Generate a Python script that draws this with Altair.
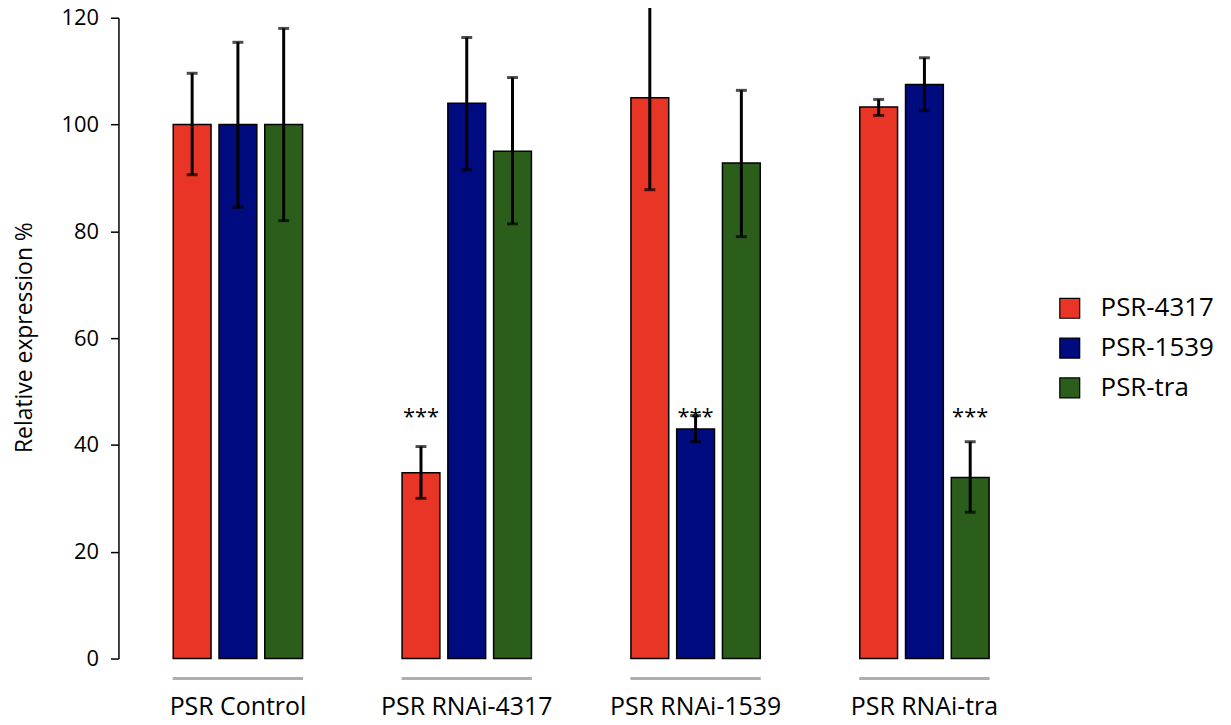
import altair as alt
import pandas as pd

groups = ["PSR Control", "PSR RNAi-4317", "PSR RNAi-1539", "PSR RNAi-tra"]
series = ["PSR-4317", "PSR-1539", "PSR-tra"]
colors = ["#E83526", "#000B80", "#2C5E1B"]

v4317 = [100.0, 34.8, 105.0, 103.3]
lo4317 = [90.6, 30.0, 87.8, 101.7]
hi4317 = [109.6, 39.7, 122.2, 104.7]

v1539 = [100.0, 104.0, 43.0, 107.5]
lo1539 = [84.5, 91.5, 40.6, 102.6]
hi1539 = [115.4, 116.3, 45.5, 112.5]

vtra = [100.0, 95.0, 92.8, 33.9]
lotra = [82.0, 81.4, 79.0, 27.4]
hitra = [118.0, 108.8, 106.4, 40.6]

sig_groups = ["PSR RNAi-4317", "PSR RNAi-1539", "PSR RNAi-tra"]
sig_series = ["PSR-4317", "PSR-1539", "PSR-tra"]
sig_level = [45.2, 45.2, 45.2]

rows = []
for s, vals, los, his in [("PSR-4317", v4317, lo4317, hi4317),
                          ("PSR-1539", v1539, lo1539, hi1539),
                          ("PSR-tra", vtra, lotra, hitra)]:
    for g, v, lo, hi in zip(groups, vals, los, his):
        rows.append({"group": g, "series": s, "value": v, "lo": lo, "hi": hi})
df = pd.DataFrame(rows)

stars = pd.DataFrame({"group": sig_groups, "series": sig_series, "y": sig_level, "t": ["***"] * 3})
groups_df = pd.DataFrame({"group": groups})

FONT = "Open Sans"

xenc = alt.X("group:N", sort=groups,
             scale=alt.Scale(paddingInner=0.4, paddingOuter=0.222),
             axis=alt.Axis(title=None, domain=False, ticks=False, labelAngle=0,
                           labelFontSize=25, labelFont=FONT, labelColor="black",
                           labelPadding=36))
xoff = alt.XOffset("series:N", sort=series,
                   scale=alt.Scale(paddingInner=0.174, paddingOuter=0.087))
yscale = alt.Scale(domain=[0, 120], nice=False)

bars = alt.Chart(df).mark_bar(stroke="black", strokeWidth=1.5).encode(
    x=xenc,
    xOffset=xoff,
    y=alt.Y("value:Q", scale=yscale,
            axis=alt.Axis(title="Relative expression %", values=[0, 20, 40, 60, 80, 100, 120],
                          grid=False, domainColor="black", domainWidth=1.5,
                          tickColor="black", tickWidth=1.5, tickSize=8,
                          labelFontSize=22, labelFont=FONT, labelColor="black",
                          labelPadding=12,
                          titleFontSize=23, titleFont=FONT, titleFontWeight="normal",
                          titleColor="black", titleX=-94, titleY=321,
                          titleAlign="center", titleBaseline="middle", titleAngle=-90)),
    color=alt.Color("series:N", sort=series,
                    scale=alt.Scale(domain=series, range=colors),
                    legend=alt.Legend(title=None, orient="none", legendX=943, legendY=279,
                                      symbolType="square", symbolSize=400,
                                      symbolStrokeColor="black", symbolStrokeWidth=1.2,
                                      labelFontSize=26, labelFont=FONT, labelColor="black",
                                      labelOffset=18, rowPadding=14)),
)

err = alt.Chart(df).mark_rule(color="black", strokeWidth=3).encode(
    x=alt.X("group:N", sort=groups),
    xOffset=xoff,
    y=alt.Y("lo:Q", scale=yscale),
    y2="hi:Q",
)

cap_hi = alt.Chart(df).mark_tick(orient="horizontal", color="black", thickness=3, size=11).encode(
    x=alt.X("group:N", sort=groups),
    xOffset=xoff,
    y=alt.Y("hi:Q", scale=yscale),
)
cap_lo = alt.Chart(df).mark_tick(orient="horizontal", color="black", thickness=3, size=11).encode(
    x=alt.X("group:N", sort=groups),
    xOffset=xoff,
    y=alt.Y("lo:Q", scale=yscale),
)

star_text = alt.Chart(stars).mark_text(fontSize=22, font=FONT, color="black", baseline="middle").encode(
    x=alt.X("group:N", sort=groups),
    xOffset=xoff,
    y=alt.Y("y:Q", scale=yscale),
    text="t:N",
)

underline = alt.Chart(groups_df).mark_tick(orient="horizontal", color="#8C8C8C", thickness=3, size=131).encode(
    x=alt.X("group:N", sort=groups),
    y=alt.value(664),
)

chart = alt.layer(bars, err, cap_hi, cap_lo, star_text, underline).properties(
    width=930, height=644,
    autosize=alt.AutoSizeParams(type="none"),
    padding={"left": 111, "top": 8, "right": 180, "bottom": 66},
).configure_view(stroke=None)

chart.save("out.html", embed_options={"renderer": "svg", "actions": False})
